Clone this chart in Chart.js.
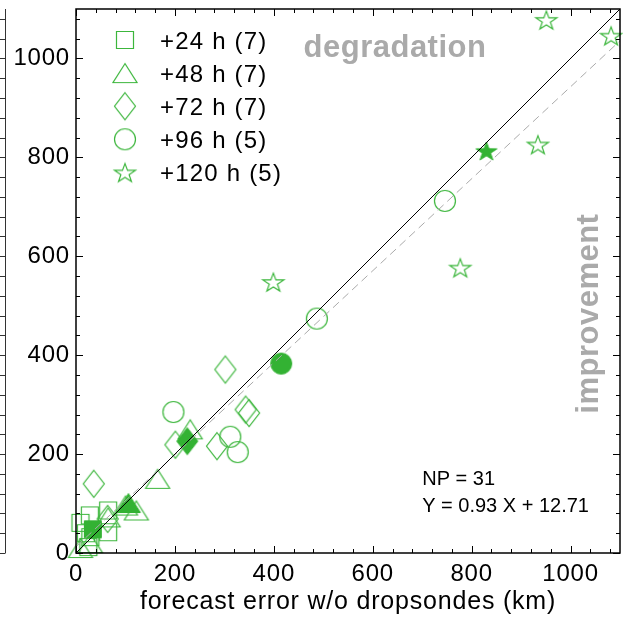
<!DOCTYPE html>
<html lang="en">
<head>
<meta charset="UTF-8">
<title>Forecast error with vs without dropsondes</title>
<script src="https://cdn.jsdelivr.net/npm/chart.js"></script>
<style>
  body { margin: 0; background: #fff; }
  #wrap { position: relative; width: 623px; height: 621px; }
</style>
</head>
<body>
<div id="wrap"><canvas id="errChart"></canvas></div>
<script>
// forecast error (km): x = without dropsondes, y = with dropsondes
const x24 = [9, 28, 65, 65, 29, 25, 20];
const y24 = [61, 76, 86, 42, 32, 12, 40];
const x48 = [231, 165, 122, 100, 65, 29, 9];
const y48 = [250, 150, 86, 96, 72, 20, 10];
const x72 = [36, 201, 285, 302, 343, 350, 64];
const y72 = [140, 219, 216, 371, 290, 283, 69];
const x96 = [197, 312, 327, 487, 746];
const y96 = [285, 235, 204, 474, 712];
const x120 = [399, 777, 934, 951, 1082];
const y120 = [548, 577, 826, 1078, 1046];

// filled symbols (one per lead time)
const meanX = [34, 106, 225, 415, 830];
const meanY = [48, 101, 226, 383, 813];

const leadLabels = ['+24 h (7)', '+48 h (7)', '+72 h (7)', '+96 h (5)', '+120 h (5)'];
const xTicks = [0, 200, 400, 600, 800, 1000];
const yTicks = [0, 200, 400, 600, 800, 1000];
const axisMax = 1100;
const fitSlope = 0.93;
const fitIntercept = 12.71;
const numPoints = 31;

const hollowGreen = 'rgb(60,182,60)';
const solidGreen = 'rgb(51,178,51)';
const fontFam = "'Liberation Sans', Arial, sans-serif";

function makeMarker(shape, filled) {
    const c = document.createElement('canvas');
    c.width = 32; c.height = 32;
    const g = c.getContext('2d');
    g.translate(16, 16);
    g.beginPath();
    if (shape === 'square') {
        g.rect(-8.5, -8.5, 17, 17);
    } else if (shape === 'triangle') {
        g.moveTo(0, -9.5); g.lineTo(12, 9.5); g.lineTo(-12, 9.5); g.closePath();
    } else if (shape === 'diamond') {
        g.moveTo(0, -13.5); g.lineTo(10.5, 0); g.lineTo(0, 13.5); g.lineTo(-10.5, 0); g.closePath();
    } else if (shape === 'circle') {
        g.arc(0, 0, 10.5, 0, Math.PI * 2);
    } else {
        for (let i = 0; i < 10; i++) {
            const r = i % 2 ? 4.3 : 11;
            const a = -Math.PI / 2 + i * Math.PI / 5;
            g.lineTo(r * Math.cos(a), r * Math.sin(a) * 0.9 + 1);
        }
        g.closePath();
    }
    if (filled) {
        g.fillStyle = solidGreen; g.fill();
        g.strokeStyle = solidGreen; g.lineWidth = 1; g.stroke();
    } else {
        g.strokeStyle = hollowGreen; g.lineWidth = 1.2; g.stroke();
    }
    return c;
}

const shapes = ['square', 'triangle', 'diamond', 'circle', 'star'];
const seriesX = [x24, x48, x72, x96, x120];
const seriesY = [y24, y48, y72, y96, y120];
const hollowMarks = shapes.map(s => makeMarker(s, false));
const solidMarks = shapes.map(s => makeMarker(s, true));

const pts = (xs, ys) => xs.map((x, i) => ({ x: x, y: ys[i] }));

const datasets = [
    {
        label: 'y = x',
        data: [{ x: 0, y: 0 }, { x: axisMax, y: axisMax }],
        showLine: true, borderColor: '#000', borderWidth: 1, pointRadius: 0
    },
    {
        label: 'fit',
        data: [0, axisMax].map(x => ({ x: x, y: fitSlope * x + fitIntercept })),
        showLine: true, borderColor: '#aaa', borderWidth: 1, borderDash: [8, 5], pointRadius: 0
    }
];
shapes.forEach((s, i) => {
    datasets.push({
        label: leadLabels[i] + ' mean',
        data: [{ x: meanX[i], y: meanY[i] }],
        pointStyle: solidMarks[i], pointRadius: 10, clip: false
    });
});
shapes.forEach((s, i) => {
    datasets.push({
        label: leadLabels[i],
        data: pts(seriesX[i], seriesY[i]),
        pointStyle: hollowMarks[i], pointRadius: 10, clip: false
    });
});

const decor = {
    id: 'decor',
    beforeDraw(chart) {
        // the original font runs a little wider than Arial
        chart.ctx.letterSpacing = '0.8px';
    },
    afterDraw(chart) {
        const { ctx, chartArea: a, scales: { x, y } } = chart;
        ctx.save();
        // inward ticks on all four sides
        ctx.strokeStyle = '#000';
        ctx.lineWidth = 1;
        for (let v = 0; v <= axisMax; v += 40) {
            const len = v % 200 === 0 ? 7 : 4;
            const px = Math.round(x.getPixelForValue(v)) + 0.5;
            const py = Math.round(y.getPixelForValue(v)) + 0.5;
            ctx.beginPath();
            ctx.moveTo(px, a.bottom); ctx.lineTo(px, a.bottom - len);
            ctx.moveTo(px, a.top); ctx.lineTo(px, a.top + len);
            ctx.moveTo(a.left, py); ctx.lineTo(a.left + len, py);
            ctx.moveTo(a.right, py); ctx.lineTo(a.right - len, py);
            ctx.stroke();
        }
        // neighbouring panel edge
        ctx.strokeStyle = '#333';
        ctx.beginPath();
        ctx.moveTo(5.5, a.top); ctx.lineTo(5.5, a.bottom);
        for (let v = 0; v <= axisMax; v += 40) {
            const py = Math.round(y.getPixelForValue(v)) + 0.5;
            ctx.moveTo(0, py); ctx.lineTo(5.5, py);
        }
        ctx.stroke();
        // frame
        ctx.strokeStyle = '#000';
        ctx.lineWidth = 1.5;
        ctx.strokeRect(a.left, a.top, a.right - a.left, a.bottom - a.top);

        // legend
        ctx.textAlign = 'left';
        ctx.textBaseline = 'middle';
        ctx.fillStyle = '#000';
        ctx.font = '24px ' + fontFam;
        ctx.letterSpacing = '1.2px';
        leadLabels.forEach((lab, i) => {
            const my = 40 + 33.1 * i;
            const img = hollowMarks[i];
            ctx.drawImage(img, 125 - img.width / 2, my - img.height / 2);
            ctx.fillText(lab, 160, my + 2);
        });

        // region labels
        ctx.fillStyle = '#aaaaaa';
        ctx.font = 'bold 31px ' + fontFam;
        ctx.letterSpacing = '0.5px';
        ctx.textAlign = 'center';
        ctx.textBaseline = 'alphabetic';
        ctx.fillText('degradation', x.getPixelForValue(645), y.getPixelForValue(1003));
        ctx.save();
        ctx.translate(x.getPixelForValue(1055), y.getPixelForValue(484));
        ctx.rotate(-Math.PI / 2);
        ctx.fillText('improvement', 0, 0);
        ctx.restore();

        // fit statistics
        ctx.fillStyle = '#000';
        ctx.font = '20px ' + fontFam;
        ctx.letterSpacing = '0px';
        ctx.textAlign = 'left';
        ctx.fillText('NP = ' + numPoints, x.getPixelForValue(700), y.getPixelForValue(138));
        ctx.fillText('Y = ' + fitSlope.toFixed(2) + ' X + ' + fitIntercept.toFixed(2),
            x.getPixelForValue(700), y.getPixelForValue(82));
        ctx.restore();
    }
};

new Chart(document.getElementById('errChart'), {
    type: 'scatter',
    data: { datasets: datasets },
    options: {
        responsive: true,
        maintainAspectRatio: false,
        animation: false,
        layout: { autoPadding: false, padding: { top: 9, right: 3, left: 0, bottom: 0 } },
        plugins: { legend: { display: false }, tooltip: { enabled: false } },
        scales: {
            x: {
                type: 'linear', min: 0, max: axisMax,
                afterBuildTicks: s => { s.ticks = xTicks.map(v => ({ value: v })); },
                afterFit: s => { s.height = 68; s.paddingLeft = 0; s.paddingRight = 0; },
                grid: { display: false, drawTicks: false },
                border: { display: false },
                ticks: {
                    color: '#000', font: { family: fontFam, size: 24 }, padding: 7,
                    maxRotation: 0, autoSkip: false, callback: v => String(v)
                },
                title: {
                    display: true, text: 'forecast error w/o dropsondes (km)', color: '#000',
                    font: { family: fontFam, size: 25 }, padding: { top: 0, bottom: 4 }
                }
            },
            y: {
                type: 'linear', min: 0, max: axisMax,
                afterBuildTicks: s => { s.ticks = yTicks.map(v => ({ value: v })); },
                afterFit: s => { s.width = 76; s.paddingTop = 0; s.paddingBottom = 0; },
                grid: { display: false, drawTicks: false },
                border: { display: false },
                ticks: { color: '#000', font: { family: fontFam, size: 24 }, padding: 6, autoSkip: false, callback: v => String(v) }
            }
        }
    },
    plugins: [decor]
});
</script>
</body>
</html>
